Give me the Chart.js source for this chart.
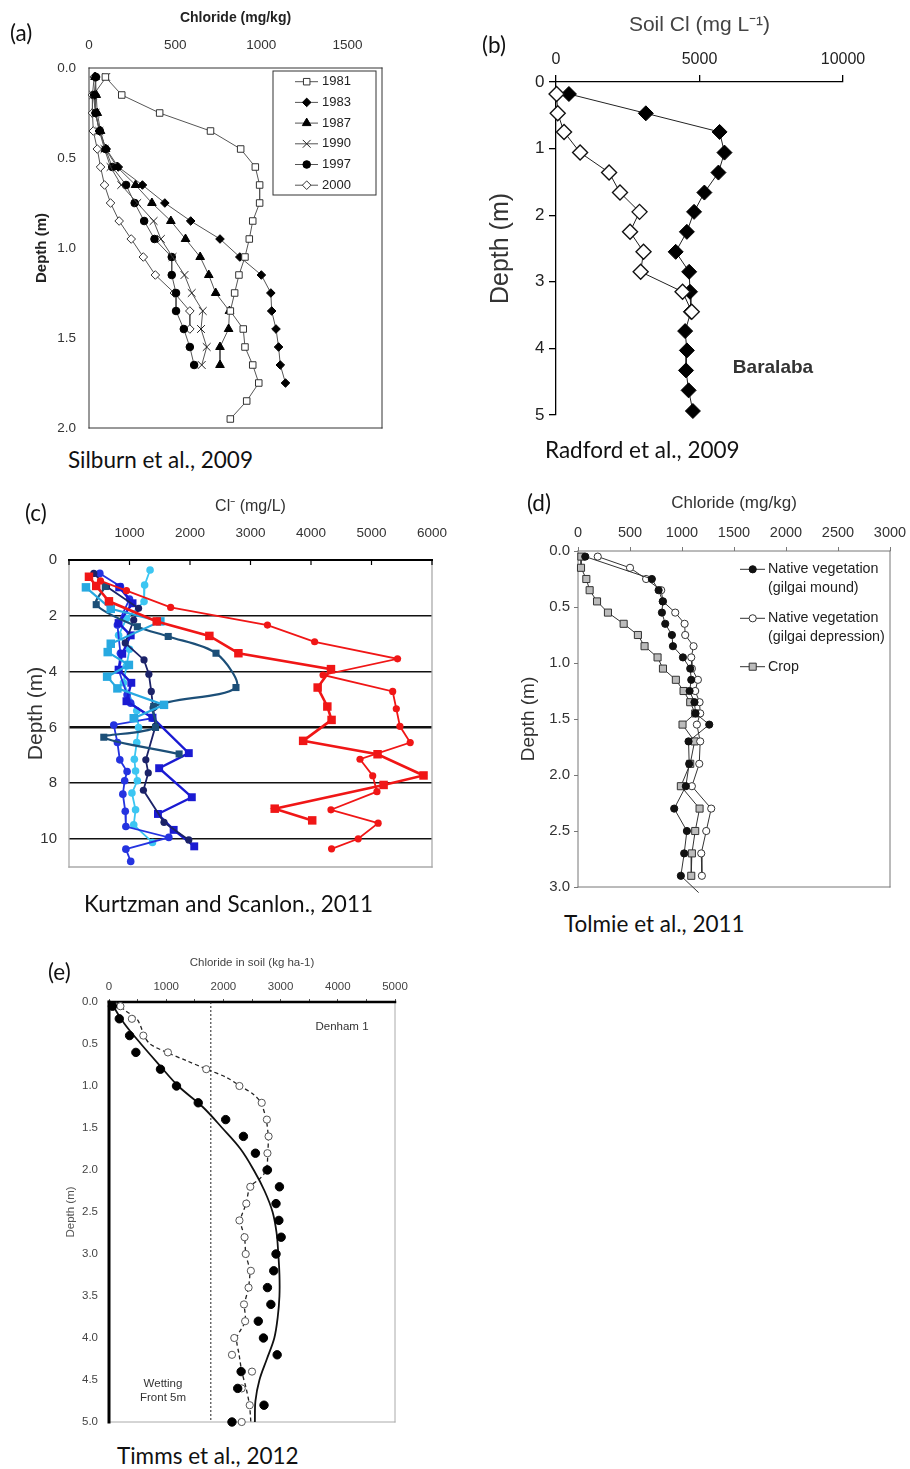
<!DOCTYPE html>
<html>
<head>
<meta charset="utf-8">
<title>Soil chloride profiles</title>
<script src="https://cdn.jsdelivr.net/npm/chart.js@4.4.1/dist/chart.umd.min.js"></script>
<style>
  html, body { margin: 0; padding: 0; background: #fff; }
  #page { position: relative; width: 910px; height: 1469px; overflow: hidden; background: #fff; }
  #page canvas { position: absolute; }
  .cap { position: absolute; font-family: Lato, 'Open Sans', sans-serif; font-size: 22.5px; line-height: 22px; color: #111; white-space: nowrap; transform: translateY(-50%); }
  .lbl { position: absolute; font-family: 'Liberation Sans', Arial, sans-serif; white-space: nowrap; transform: translate(-50%, -50%); line-height: 1; color: #333; }
</style>
</head>
<body>
<div id="page">
  <canvas id="chartA" width="400" height="440" style="left:0;top:0"></canvas>
  <canvas id="chartB" width="440" height="440" style="left:470px;top:0"></canvas>
  <canvas id="chartC" width="460" height="420" style="left:0;top:480px"></canvas>
  <canvas id="chartD" width="400" height="420" style="left:510px;top:480px"></canvas>
  <canvas id="chartE" width="380" height="500" style="left:40px;top:940px"></canvas>

  <div class="cap" style="left:10px;top:33px">(a)</div>
  <div class="cap" style="left:482px;top:45px">(b)</div>
  <div class="cap" style="left:25px;top:513px">(c)</div>
  <div class="cap" style="left:527px;top:503px">(d)</div>
  <div class="cap" style="left:48px;top:972px">(e)</div>
  <div class="cap" style="left:68px;top:460px">Silburn et al., 2009</div>
  <div class="cap" style="left:545px;top:450px">Radford et al., 2009</div>
  <div class="cap" style="left:84px;top:904px">Kurtzman and Scanlon., 2011</div>
  <div class="cap" style="left:564px;top:924px">Tolmie et al., 2011</div>
  <div class="cap" style="left:117px;top:1456px">Timms et al., 2012</div>

  <div class="lbl" style="left:773px;top:366px;font-size:19px;font-weight:bold">Baralaba</div>
  <div class="lbl" style="left:342px;top:1027px;font-size:11.5px">Denham 1</div>
  <div class="lbl" style="left:163px;top:1384px;font-size:11.5px">Wetting</div>
  <div class="lbl" style="left:163px;top:1398px;font-size:11.5px">Front 5m</div>
</div>
<script>
// (a) Silburn et al., 2009 - chloride (mg/kg) by depth
var depthA = [0.05, 0.15, 0.25, 0.35, 0.45, 0.55, 0.65, 0.75, 0.85, 0.95, 1.05, 1.15, 1.25, 1.35, 1.45, 1.55, 1.65, 1.75, 1.85, 1.95];
var cl1981 = [95, 190, 410, 705, 880, 965, 990, 990, 950, 930, 905, 870, 845, 820, 895, 905, 950, 985, 915, 820];
var cl1983 = [40, 35, 40, 60, 100, 170, 310, 440, 590, 760, 875, 1000, 1055, 1060, 1085, 1100, 1110, 1140];
var cl1987 = [35, 42, 48, 67, 96, 163, 270, 365, 475, 560, 645, 695, 735, 815, 810, 760, 760];
var cl1990 = [100, 25, 38, 60, 90, 125, 187, 280, 375, 417, 485, 554, 596, 660, 650, 683, 654];
var cl1997 = [40, 30, 38, 63, 96, 135, 215, 265, 320, 380, 480, 480, 505, 505, 550, 585, 610];
var cl2000 = [30, 20, 20, 25, 48, 67, 90, 125, 175, 245, 315, 385, 495, 585, 585];
var ticksAX = [0, 500, 1000, 1500];
var ticksAY = [0, 0.5, 1, 1.5, 2];

// (b) Radford et al., 2009 - soil Cl (mg/L)
var depthBFilled = [0.18, 0.47, 0.75, 1.06, 1.36, 1.66, 1.95, 2.25, 2.55, 2.85, 3.15, 3.45, 3.74, 4.03, 4.33, 4.63, 4.94];
var soilClFilled = [450, 3130, 5700, 5870, 5660, 5170, 4810, 4560, 4170, 4640, 4670, 4700, 4500, 4560, 4530, 4620, 4770];
var depthBOpen = [0.18, 0.47, 0.75, 1.06, 1.36, 1.66, 1.95, 2.25, 2.55, 2.85, 3.15, 3.45];
var soilClOpen = [20, 60, 280, 840, 1850, 2230, 2910, 2580, 3050, 2950, 4410, 4730];
var ticksBX = [0, 5000, 10000];
var ticksBY = [0, 1, 2, 3, 4, 5];

// (c) Kurtzman and Scanlon, 2011 - Cl- (mg/L)
var redSqCl = [330, 450, 660, 1450, 2320, 2800, 4330, 4110, 4270, 4340, 3870, 5100, 5860, 5200, 3400, 4020];
var redSqDepth = [0.60, 0.93, 1.48, 2.20, 2.72, 3.34, 3.91, 4.57, 5.25, 5.73, 6.48, 6.96, 7.72, 8.06, 8.91, 9.33];
var redCiCl = [520, 950, 1680, 3280, 4060, 5430, 4200, 5350, 5410, 5470, 5640, 4810, 5020, 5090, 4330, 5110, 4780, 4340];
var redCiDepth = [0.75, 1.10, 1.70, 2.33, 2.93, 3.54, 4.12, 4.71, 5.33, 5.96, 6.54, 7.14, 7.73, 8.30, 8.95, 9.43, 9.99, 10.35];
var tealSqCl = [600, 450, 1130, 1640, 2430, 2760, 1400, 1430, 575, 1820];
var tealSqDepth = [0.95, 1.60, 2.39, 2.74, 3.34, 4.57, 5.25, 6.00, 6.35, 6.95];
var navyCiCl = [410, 620, 1150, 1070, 930, 1240, 1320, 1360, 1390, 1430, 1270, 1310, 1230, 1570, 1980];
var navyCiDepth = [0.48, 0.95, 1.73, 2.15, 2.97, 3.58, 4.09, 4.71, 5.30, 5.95, 7.16, 7.63, 8.25, 9.40, 10.03];
var blueSqCl = [830, 1050, 820, 1020, 880, 820, 1030, 950, 1380, 1980, 1490, 2030, 1470, 1730, 2070];
var blueSqDepth = [0.98, 1.55, 2.26, 2.70, 3.36, 3.93, 4.40, 5.06, 5.65, 6.92, 7.46, 8.50, 9.10, 9.67, 10.26];
var blueCiCl = [510, 850, 1000, 800, 850, 820, 960, 1020, 1380, 740, 800, 840, 960, 920, 890, 930, 940, 1650, 940, 1020];
var blueCiDepth = [0.48, 0.95, 1.40, 2.33, 3.34, 3.94, 4.83, 5.13, 5.67, 5.91, 6.54, 7.16, 7.58, 7.91, 8.39, 9.00, 9.55, 9.94, 10.36, 10.80];
var cyanSqCl = [280, 690, 1510, 690, 640, 990, 630, 800, 1570, 1070];
var cyanSqDepth = [0.98, 1.75, 2.20, 3.00, 3.30, 3.76, 4.18, 4.60, 5.19, 5.67];
var cyanCiCl = [1340, 1250, 1240, 950, 820, 1000, 950, 900, 1120, 1150, 1120, 1080, 1100, 1130, 1040, 1100, 1070, 1380];
var cyanCiDepth = [0.36, 0.90, 1.49, 2.10, 2.70, 3.20, 3.80, 4.40, 5.40, 6.00, 6.54, 7.14, 7.56, 7.91, 8.35, 8.95, 9.49, 10.12];
var ticksCX = [0, 1000, 2000, 3000, 4000, 5000, 6000];
var ticksCY = [0, 2, 4, 6, 8, 10];

// (d) Tolmie et al., 2011 - chloride (mg/kg)
var depthD = [0.05, 0.15, 0.25, 0.35, 0.45, 0.55, 0.65, 0.75, 0.85, 0.95, 1.05, 1.15, 1.25, 1.35, 1.45, 1.55, 1.70, 1.90, 2.10, 2.30, 2.50, 2.70, 2.90];
var moundCl = [70, null, 710, 775, 815, 807, 839, 903, 913, 1009, 1079, 1089, 1073, 1120, 1130, 1262, 1063, 1069, 1037, 925, 1047, 1021, 989];
var depressionCl = [190, 500, 655, 800, 817, 935, 1025, 1031, 1111, 1089, 1095, 1153, 1127, 1169, 1175, 1143, 1175, 1166, 1095, 1281, 1233, 1185, 1191];
var cropCl = [32, 29, 80, 112, 183, 288, 439, 576, 640, 765, 817, 941, 1015, 1079, 1127, 1005, 1121, 1079, 989, 1169, 1127, 1095, 1089];
var tailCl = [989, 1160];
var tailDepth = [2.90, 3.05];
var ticksDX = [0, 500, 1000, 1500, 2000, 2500, 3000];
var ticksDY = [0, 0.5, 1, 1.5, 2, 2.5, 3];

// (e) Timms et al., 2012 - chloride in soil (kg/ha), Denham 1
var depthE = [0.05, 0.2, 0.4, 0.6, 0.8, 1.0, 1.2, 1.4, 1.6, 1.8, 2.0, 2.2, 2.4, 2.6, 2.8, 3.0, 3.2, 3.4, 3.6, 3.8, 4.0, 4.2, 4.4, 4.6, 4.8, 5.0];
var clSoilFilled = [60, 180, 360, 470, 900, 1180, 1560, 2040, 2350, 2560, 2770, 2980, 2920, 2970, 3010, 2920, 2880, 2770, 2830, 2610, 2700, 2940, 2310, 2250, 2710, 2150];
var clSoilOpen = [200, 400, 600, 1030, 1700, 2280, 2670, 2760, 2790, 2770, 2750, 2470, 2400, 2280, 2370, 2390, 2480, 2440, 2360, 2380, 2190, 2150, 2500, 2320, 2460, 2320];
var modelDepth = [0, 0.25, 0.5, 0.75, 1.0, 1.25, 1.5, 1.75, 2.0, 2.25, 2.5, 2.75, 3.0, 3.25, 3.5, 3.75, 4.0, 4.25, 4.5, 4.75, 5.0];
var modelSolid = [30, 260, 560, 880, 1210, 1640, 1980, 2300, 2530, 2720, 2860, 2930, 2960, 2980, 2980, 2950, 2890, 2760, 2630, 2560, 2550];
var dashDepth = [0, 0.1, 0.2, 0.3, 0.4, 0.5, 0.6, 0.7, 0.8, 0.9, 1.0, 1.1, 1.2, 1.4, 1.6, 1.8, 2.0, 2.1, 2.2, 2.4, 2.6, 2.8, 3.0, 3.2, 3.4, 3.6, 3.8, 4.0, 4.2, 4.4, 4.6, 4.8, 5.0];
var modelDashed = [120, 280, 484, 560, 613, 718, 1010, 1359, 1709, 2060, 2293, 2526, 2655, 2748, 2783, 2777, 2748, 2643, 2468, 2398, 2300, 2369, 2392, 2460, 2439, 2369, 2380, 2235, 2275, 2322, 2398, 2456, 2480];
var wettingFrontCl = 1780;
var ticksEX = [0, 500, 1000, 1500, 2000, 2500, 3000, 3500, 4000, 4500, 5000];
var ticksEY = [0, 0.5, 1, 1.5, 2, 2.5, 3, 3.5, 4, 4.5, 5];

var SANS = "'Liberation Sans', Arial, sans-serif";

function pairs(xs, ys) {
	return xs.map(function (v, i) { return { x: v, y: ys[i] }; }).filter(function (p) { return p.x !== null; });
}

function drawMark(ctx, style, r, x, y, fill, stroke, lw) {
	ctx.beginPath();
	if (style === 'rect') {
		var s = r * Math.SQRT1_2;
		ctx.rect(x - s, y - s, 2 * s, 2 * s);
	} else if (style === 'rectRot') {
		ctx.moveTo(x - r, y); ctx.lineTo(x, y - r); ctx.lineTo(x + r, y); ctx.lineTo(x, y + r); ctx.closePath();
	} else if (style === 'triangle') {
		for (var k = 0; k < 3; k++) {
			var ang = k * 2 * Math.PI / 3;
			if (k === 0) ctx.moveTo(x + Math.sin(ang) * r, y - Math.cos(ang) * r);
			else ctx.lineTo(x + Math.sin(ang) * r, y - Math.cos(ang) * r);
		}
		ctx.closePath();
	} else if (style === 'crossRot') {
		var c = r * Math.SQRT1_2;
		ctx.moveTo(x - c, y - c); ctx.lineTo(x + c, y + c);
		ctx.moveTo(x - c, y + c); ctx.lineTo(x + c, y - c);
	} else {
		ctx.arc(x, y, r, 0, Math.PI * 2);
	}
	if (style !== 'crossRot') { ctx.fillStyle = fill; ctx.fill(); }
	if (lw > 0) { ctx.strokeStyle = stroke; ctx.lineWidth = lw; ctx.stroke(); }
}

// frame edges, inner ticks and the small in-plot legends
function makeDecor(conf) {
	return {
		id: 'decor',
		beforeDatasetsDraw: function (chart) {
			var ctx = chart.ctx, a = chart.chartArea;
			ctx.save();
			ctx.lineCap = 'square';
			var edges = {
				top: [a.left, a.top, a.right, a.top],
				right: [a.right, a.top, a.right, a.bottom],
				bottom: [a.left, a.bottom, a.right, a.bottom],
				left: [a.left, a.top, a.left, a.bottom]
			};
			Object.keys(conf.frame || {}).forEach(function (k) {
				var e = edges[k], f = conf.frame[k];
				ctx.beginPath();
				ctx.strokeStyle = f[0];
				ctx.lineWidth = f[1];
				ctx.moveTo(e[0], e[1]);
				ctx.lineTo(e[2], e[3]);
				ctx.stroke();
			});
			if (conf.innerTicks) {
				var sc = chart.scales.x, t = conf.innerTicks;
				ctx.lineCap = 'butt';
				ctx.strokeStyle = t.color;
				ctx.lineWidth = t.width;
				sc.ticks.forEach(function (tk) {
					var px = sc.getPixelForValue(tk.value);
					ctx.beginPath();
					ctx.moveTo(px, a.top);
					ctx.lineTo(px, a.top + t.len);
					ctx.stroke();
				});
			}
			ctx.restore();
		},
		afterDraw: function (chart) {
			var L = conf.legend;
			if (!L) return;
			var ctx = chart.ctx;
			ctx.save();
			if (L.box) {
				ctx.strokeStyle = L.boxColor;
				ctx.lineWidth = 1;
				ctx.strokeRect(L.box[0], L.box[1], L.box[2] - L.box[0], L.box[3] - L.box[1]);
			}
			L.rows.forEach(function (r) {
				var ds = chart.data.datasets[r.ds];
				ctx.beginPath();
				ctx.strokeStyle = ds.borderColor;
				ctx.lineWidth = ds.borderWidth;
				ctx.moveTo(L.x0, r.y);
				ctx.lineTo(L.x1, r.y);
				ctx.stroke();
				drawMark(ctx, ds.pointStyle, ds.pointRadius, L.mx, r.y, ds.pointBackgroundColor, ds.pointBorderColor, ds.pointBorderWidth);
				ctx.font = L.font;
				ctx.fillStyle = L.color;
				ctx.textAlign = 'left';
				ctx.textBaseline = 'middle';
				r.text.forEach(function (t, i) { ctx.fillText(t, L.tx, r.y + i * L.lh); });
			});
			ctx.restore();
		}
	};
}

function axis(o) {
	return {
		type: 'linear',
		position: o.pos,
		reverse: !!o.reverse,
		min: o.min,
		max: o.max,
		afterFit: function (scale) {
			if (scale.isHorizontal()) scale.height = o.size; else scale.width = o.size;
			scale.paddingLeft = scale.paddingRight = scale.paddingTop = scale.paddingBottom = 0;
		},
		afterBuildTicks: function (scale) {
			scale.ticks = o.ticks.map(function (v) { return { value: v }; });
		},
		ticks: { autoSkip: false, maxRotation: 0, padding: o.tickPad, color: o.tickColor, font: o.tickFont, callback: o.fmt },
		grid: o.grid || { display: false, drawTicks: false },
		border: o.border || { display: false },
		title: { display: true, text: o.title, color: o.titleColor, font: o.titleFont, padding: { top: o.titlePad, bottom: 0 } }
	};
}

function series(label, pts, s) {
	var base = {
		label: label, data: pts, showLine: true, clip: false, tension: 0,
		borderColor: '#555', borderWidth: 1,
		pointStyle: 'circle', pointRadius: 4, pointHoverRadius: 4,
		pointBackgroundColor: '#000', pointBorderColor: '#000', pointBorderWidth: 1
	};
	for (var k in s) base[k] = s[k];
	if (s.pointRadius !== undefined && s.pointHoverRadius === undefined) base.pointHoverRadius = s.pointRadius;
	return base;
}

function draw(id, datasets, scales, pad, decor) {
	return new Chart(document.getElementById(id), {
		type: 'scatter',
		data: { datasets: datasets },
		options: {
			responsive: false,
			animation: false,
			devicePixelRatio: 1,
			events: [],
			layout: { padding: pad },
			plugins: { legend: { display: false }, tooltip: { enabled: false } },
			scales: scales
		},
		plugins: [makeDecor(decor)]
	});
}

function dec1(v) { return Number(v).toFixed(1); }
function plain(v) { return String(v); }

// ---------- (a)
draw('chartA', [
	series('1981', pairs(cl1981, depthA), { pointStyle: 'rect', pointRadius: 4.6, pointBackgroundColor: '#fff', pointBorderColor: '#333', borderColor: '#555' }),
	series('1983', pairs(cl1983, depthA), { pointStyle: 'rectRot', pointRadius: 4.3, pointBackgroundColor: '#000', pointBorderColor: '#000' }),
	series('1987', pairs(cl1987, depthA), { pointStyle: 'triangle', pointRadius: 5, pointBackgroundColor: '#000', pointBorderColor: '#000' }),
	series('1990', pairs(cl1990, depthA), { pointStyle: 'crossRot', pointRadius: 5.5, pointBorderColor: '#222', pointBorderWidth: 1 }),
	series('1997', pairs(cl1997, depthA), { pointStyle: 'circle', pointRadius: 3.8, pointBackgroundColor: '#000', pointBorderColor: '#000' }),
	series('2000', pairs(cl2000, depthA), { pointStyle: 'rectRot', pointRadius: 4.3, pointBackgroundColor: '#fff', pointBorderColor: '#333' })
], {
	x: axis({ pos: 'top', min: 0, max: 1700, size: 68, ticks: ticksAX, fmt: plain,
		tickPad: 14.9, tickColor: '#333', tickFont: { family: SANS, size: 13.5 },
		title: 'Chloride (mg/kg)', titleColor: '#222', titleFont: { family: SANS, size: 14, weight: 'bold' }, titlePad: 9.6 }),
	y: axis({ pos: 'left', reverse: true, min: 0, max: 2, size: 89, ticks: ticksAY, fmt: dec1,
		tickPad: 13, tickColor: '#333', tickFont: { family: SANS, size: 13.5 },
		title: 'Depth (m)', titleColor: '#222', titleFont: { family: SANS, size: 15, weight: 'bold' }, titlePad: 33 })
}, { left: 0, top: 0, right: 18, bottom: 12 }, {
	frame: { top: ['#333', 1], right: ['#333', 1], bottom: ['#333', 1], left: ['#333', 1] },
	legend: {
		box: [273, 71, 376, 195], boxColor: '#333',
		x0: 295, x1: 318, mx: 306.7, tx: 322, lh: 15,
		font: '13px ' + SANS, color: '#222',
		rows: [
			{ ds: 0, y: 81.7, text: ['1981'] },
			{ ds: 1, y: 102.4, text: ['1983'] },
			{ ds: 2, y: 123.1, text: ['1987'] },
			{ ds: 3, y: 143.8, text: ['1990'] },
			{ ds: 4, y: 164.5, text: ['1997'] },
			{ ds: 5, y: 185.2, text: ['2000'] }
		]
	}
});

// ---------- (b)
var tickGridB = { display: true, drawOnChartArea: false, drawTicks: true, tickLength: 7, color: '#000', lineWidth: 1.3 };
draw('chartB', [
	series('Open', pairs(soilClOpen, depthBOpen), { pointStyle: 'rectRot', pointRadius: 7.5, pointBackgroundColor: '#fff', pointBorderColor: '#111', pointBorderWidth: 1.4, borderColor: '#222' }),
	series('Filled', pairs(soilClFilled, depthBFilled), { pointStyle: 'rectRot', pointRadius: 7.5, pointBackgroundColor: '#000', pointBorderColor: '#000', borderColor: '#222' })
], {
	x: axis({ pos: 'top', min: 0, max: 10000, size: 82, ticks: ticksBX, fmt: plain,
		tickPad: 6, tickColor: '#222', tickFont: { family: SANS, size: 16 },
		grid: tickGridB, border: { display: true, color: '#000', width: 1.3 },
		title: 'Soil Cl (mg L\u207B\u00B9)', titleColor: '#444', titleFont: { family: SANS, size: 21 }, titlePad: 12.4 }),
	y: axis({ pos: 'left', reverse: true, min: 0, max: 5, size: 86, ticks: ticksBY, fmt: plain,
		tickPad: 4.5, tickColor: '#222', tickFont: { family: SANS, size: 17 },
		grid: tickGridB, border: { display: true, color: '#000', width: 1.3 },
		title: 'Depth (m)', titleColor: '#333', titleFont: { family: SANS, size: 25 }, titlePad: 15.7 })
}, { left: 0, top: 0, right: 67, bottom: 25 }, {});

// ---------- (c)
var RED = '#f01616', NAVY = '#1b2268', TEAL = '#1c4f78', ROYAL_SQ = '#1a1ad2', ROYAL_CI = '#2433e0', CYAN_SQ = '#27a9e1', CYAN_CI = '#3cc6f2';
function cSeries(label, xs, ys, color, style, r, w, tension) {
	return series(label, pairs(xs, ys), { borderColor: color, borderWidth: w, pointStyle: style, pointRadius: r,
		pointBackgroundColor: color, pointBorderColor: color, pointBorderWidth: 0, tension: tension || 0 });
}
draw('chartC', [
	cSeries('Red squares', redSqCl, redSqDepth, RED, 'rect', 6, 2.6),
	cSeries('Red circles', redCiCl, redCiDepth, RED, 'circle', 3.6, 1.8),
	cSeries('Cyan squares', cyanSqCl, cyanSqDepth, CYAN_SQ, 'rect', 6, 2.2),
	cSeries('Teal squares', tealSqCl, tealSqDepth, TEAL, 'rect', 5, 2.2, 0.3),
	cSeries('Navy circles', navyCiCl, navyCiDepth, NAVY, 'circle', 3.6, 1.8),
	cSeries('Blue squares', blueSqCl, blueSqDepth, ROYAL_SQ, 'rect', 5.6, 2.4),
	cSeries('Blue circles', blueCiCl, blueCiDepth, ROYAL_CI, 'circle', 3.8, 1.8),
	cSeries('Cyan circles', cyanCiCl, cyanCiDepth, CYAN_CI, 'circle', 3.8, 1.8)
], {
	x: axis({ pos: 'top', min: 0, max: 6000, size: 80, ticks: ticksCX, fmt: function (v) { return v === 0 ? '' : String(v); },
		tickPad: 18.6, tickColor: '#333', tickFont: { family: SANS, size: 13.5 },
		title: 'Cl\u207B (mg/L)', titleColor: '#333', titleFont: { family: SANS, size: 16 }, titlePad: 17.4 }),
	y: axis({ pos: 'left', reverse: true, min: 0, max: 11, size: 69, ticks: ticksCY, fmt: plain,
		tickPad: 12, tickColor: '#333', tickFont: { family: SANS, size: 15 },
		grid: { display: true, drawOnChartArea: true, drawTicks: false, color: '#111',
			lineWidth: function (c) { return c.tick && c.tick.value === 6 ? 2.6 : 1.6; } },
		title: 'Depth (m)', titleColor: '#333', titleFont: { family: SANS, size: 21 }, titlePad: 24.1 })
}, { left: 0, top: 0, right: 28, bottom: 33 }, {
	frame: { left: ['#aaa', 1.3], right: ['#aaa', 1.3], bottom: ['#aaa', 1.3], top: ['#000', 2] },
	innerTicks: { len: 5, color: '#000', width: 1.2 }
});

// ---------- (d)
var tickGridD = { display: true, drawOnChartArea: false, drawTicks: true, tickLength: 4, color: '#777', lineWidth: 1 };
draw('chartD', [
	series('Native vegetation (gilgai mound)', pairs(moundCl, depthD), { pointStyle: 'circle', pointRadius: 3.6, pointBackgroundColor: '#111', pointBorderColor: '#111', borderColor: '#333' }),
	series('Native vegetation (gilgai depression)', pairs(depressionCl, depthD), { pointStyle: 'circle', pointRadius: 3.6, pointBackgroundColor: '#fff', pointBorderColor: '#333', borderColor: '#333' }),
	series('Crop', pairs(cropCl, depthD), { pointStyle: 'rect', pointRadius: 5, pointBackgroundColor: '#bbb', pointBorderColor: '#333', borderColor: '#333' }),
	series('tail', pairs(tailCl, tailDepth), { pointRadius: 0, borderColor: '#333' })
], {
	x: axis({ pos: 'top', min: 0, max: 3000, size: 71, ticks: ticksDX, fmt: plain,
		tickPad: 5, tickColor: '#333', tickFont: { family: SANS, size: 14.5 }, grid: tickGridD,
		title: 'Chloride (mg/kg)', titleColor: '#333', titleFont: { family: SANS, size: 17 }, titlePad: 13.1 }),
	y: axis({ pos: 'left', reverse: true, min: 0, max: 3, size: 68, ticks: ticksDY, fmt: dec1,
		tickPad: 4, tickColor: '#333', tickFont: { family: SANS, size: 15 }, grid: tickGridD,
		title: 'Depth (m)', titleColor: '#333', titleFont: { family: SANS, size: 19 }, titlePad: 6.9 })
}, { left: 0, top: 0, right: 20, bottom: 13 }, {
	frame: { top: ['#777', 1], right: ['#777', 1], bottom: ['#777', 1], left: ['#777', 1] },
	legend: {
		x0: 230, x1: 255, mx: 242.7, tx: 258, lh: 18.7,
		font: '14.3px ' + SANS, color: '#222',
		rows: [
			{ ds: 0, y: 89.3, text: ['Native vegetation', '(gilgai mound)'] },
			{ ds: 1, y: 138.3, text: ['Native vegetation', '(gilgai depression)'] },
			{ ds: 2, y: 186.7, text: ['Crop'] }
		]
	}
});

// ---------- (e)
draw('chartE', [
	series('Measured (filled)', pairs(clSoilFilled, depthE), { showLine: false, pointStyle: 'circle', pointRadius: 4.2, pointBackgroundColor: '#000', pointBorderColor: '#000' }),
	series('Measured (open)', pairs(clSoilOpen, depthE), { showLine: false, pointStyle: 'circle', pointRadius: 3.6, pointBackgroundColor: '#fff', pointBorderColor: '#555' }),
	series('Model solid', pairs(modelSolid, modelDepth), { pointRadius: 0, borderColor: '#111', borderWidth: 1.8, tension: 0.35 }),
	series('Model dashed', pairs(modelDashed, dashDepth), { pointRadius: 0, borderColor: '#222', borderWidth: 1.3, borderDash: [4, 3], tension: 0.3 }),
	series('Wetting front', pairs([wettingFrontCl, wettingFrontCl], [0, 5]), { pointRadius: 0, borderColor: '#222', borderWidth: 1, borderDash: [2, 2] })
], {
	x: axis({ pos: 'top', min: 0, max: 5000, size: 62, ticks: ticksEX, fmt: function (v) { return v % 1000 === 0 ? String(v) : ''; },
		tickPad: 5.4, tickColor: '#444', tickFont: { family: SANS, size: 11.5 },
		grid: { display: true, drawOnChartArea: false, drawTicks: true, tickLength: 3, color: '#555', lineWidth: 1 },
		title: 'Chloride in soil (kg ha-1)', titleColor: '#444', titleFont: { family: SANS, size: 11.5 }, titlePad: 15.8 }),
	y: axis({ pos: 'left', reverse: true, min: 0, max: 5, size: 69, ticks: ticksEY, fmt: dec1,
		tickPad: 11, tickColor: '#444', tickFont: { family: SANS, size: 11.5 },
		title: 'Depth (m)', titleColor: '#555', titleFont: { family: SANS, size: 11.5 }, titlePad: 24.1 })
}, { left: 0, top: 0, right: 25, bottom: 18 }, {
	frame: { right: ['#aaa', 1], bottom: ['#aaa', 1], left: ['#000', 3], top: ['#000', 2.5] }
});
</script>
</body>
</html>
